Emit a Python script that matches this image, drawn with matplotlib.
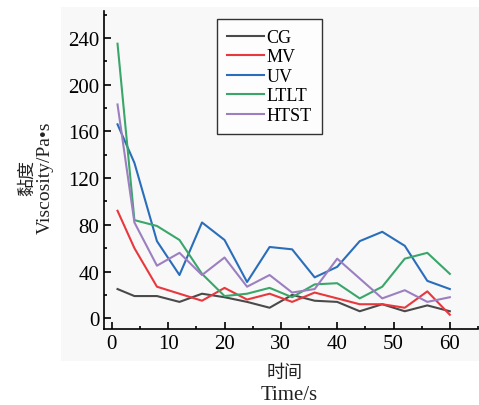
import matplotlib.pyplot as plt
from matplotlib.patches import Rectangle
from matplotlib.ticker import MultipleLocator

plt.rcParams['font.family'] = ['Liberation Serif', 'Noto Sans CJK SC']

# sampling times (s)
time = [1, 4, 8, 12, 16, 20, 24, 28, 32, 36, 40, 44, 48, 52, 56, 60]

# viscosity (Pa*s)
cg = [25, 19, 19, 14, 21, 18, 14, 9, 20, 15, 14, 6, 12, 6, 11, 6]
mv = [92, 60, 27, 21, 15, 26, 16, 21, 14, 22, 17, 12, 12, 9, 23, 3]
uv = [166, 133, 66, 37, 82, 67, 31, 61, 59, 35, 44, 66, 74, 62, 32, 25]
ltlt = [235, 84, 79, 67, 38, 19, 21, 26, 18, 29, 30, 17, 27, 51, 56, 38]
htst = [183, 82, 45, 56, 37, 52, 27, 37, 22, 25, 51, 34, 17, 24, 14, 18]

series = [('CG', cg, '#4a4a4a'),
          ('MV', mv, '#e8383d'),
          ('UV', uv, '#2a6ebb'),
          ('LTLT', ltlt, '#3aa66a'),
          ('HTST', htst, '#9b7fc0')]

W, H = 479, 406
fig = plt.figure(figsize=(W / 100, H / 100), dpi=100)
# faint grey panel behind the plot
fig.patches.append(Rectangle((61 / W, 1 - 362 / H), 418 / W, 354 / H,
                             transform=fig.transFigure, facecolor='#f8f8f8',
                             edgecolor='none', zorder=-5))

ax = fig.add_axes([104 / W, 76 / H, 374 / W, 318 / H])
ax.set_zorder(2)
ax.patch.set_alpha(0)

for name, vals, col in series:
    ax.plot(time, vals, color=col, lw=1.5, label=name)

ax.set_xlim(-1.4, 65)
ax.set_ylim(-9.2, 263)
ax.xaxis.set_major_locator(MultipleLocator(10))
ax.xaxis.set_minor_locator(MultipleLocator(5))
ax.yaxis.set_major_locator(MultipleLocator(40))
ax.yaxis.set_minor_locator(MultipleLocator(20))
ax.tick_params(which='both', direction='in', labelsize=15, width=1.2)
ax.tick_params(which='major', length=5)
ax.tick_params(which='minor', length=2.5)
ax.spines['top'].set_visible(False)
ax.spines['right'].set_visible(False)
ax.spines['left'].set_linewidth(1.2)
ax.spines['bottom'].set_linewidth(1.2)

# axis titles: Chinese line smaller than the English line
fig.text(27 / W, 1 - 178 / H, '黏度', fontsize=13, rotation=90,
         ha='center', va='center', family='Noto Sans CJK SC', color='#222222')
fig.text(45 / W, 1 - 178 / H, 'Viscosity/Pa•s', fontsize=14, rotation=90,
         ha='center', va='center', color='#222222')
fig.text(285 / W, 1 - 373 / H, '时间', fontsize=13,
         ha='center', va='center', family='Noto Sans CJK SC', color='#222222')
fig.text(289 / W, 1 - 396 / H, 'Time/s', fontsize=15,
         ha='center', va='center', color='#222222')

leg = ax.legend(loc='upper left', bbox_to_anchor=(0.302, 0.975), fontsize=13,
                frameon=True, fancybox=False, handlelength=2.05,
                handletextpad=0.15, labelspacing=0.14, borderpad=0.55,
                borderaxespad=0)
leg.get_frame().set_edgecolor('black')
leg.get_frame().set_linewidth(1.0)
leg.get_frame().set_facecolor('white')

fig.savefig('out.png', dpi=100)
